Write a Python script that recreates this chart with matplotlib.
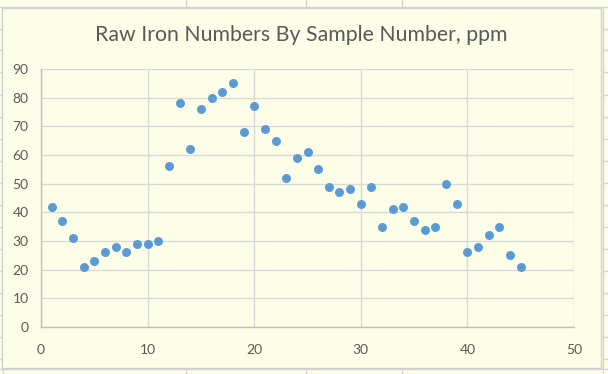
import matplotlib.pyplot as plt
from matplotlib.patches import Rectangle
from matplotlib.lines import Line2D

plt.rcParams['font.family'] = ['Lato', 'DejaVu Sans']

# Данные: номер пробы и содержание железа, ppm
sample = list(range(1, 46))
iron = [42, 37, 31, 21, 23, 26, 28, 26, 29, 29,
        30, 56, 78, 62, 76, 80, 82, 85, 68, 77,
        69, 65, 52, 59, 61, 55, 49, 47, 48, 43,
        49, 35, 41, 42, 37, 34, 35, 50, 43, 26,
        28, 32, 35, 25, 21]

bg = '#FDFEE8'
W, H = 608, 374

fig = plt.figure(figsize=(6.08, 3.74), dpi=100, facecolor=bg)

# линии ячеек таблицы вокруг диаграммы
cell = '#D4D4D4'
def fline(x0, y0, x1, y1, lw=1.0):
    fig.add_artist(Line2D([x0 / W, x1 / W], [1 - y0 / H, 1 - y1 / H],
                          color=cell, lw=lw, transform=fig.transFigure,
                          zorder=-2))

fline(0, 6.5, W, 6.5)
for x in [186, 306, 402]:
    fline(x, 0, x, 6.5)
    fline(x, 369, x, H)
fline(3, 369, 3, H)
fline(0, 369, W, 369)
fline(603, 6.5, 603, H)
for y in [28.5, 50, 72, 94.5, 116.5, 138.5, 160.5, 182.5, 204.5, 226.5,
          248.5, 270.5, 292.5, 314.5, 336.5, 358.5]:
    fline(603, y, W, y)
    fline(0, y, 1, y)

# рамка диаграммы
fig.add_artist(Rectangle((1.5 / W, 1 - 367.5 / H), 599.5 / W, 359.5 / H,
                         transform=fig.transFigure, facecolor=bg,
                         edgecolor='#D0D0D0', lw=1.0, zorder=-1))

ax = fig.add_axes([41 / W, 1 - 327 / H, 533 / W, 258 / H])
ax.set_zorder(2)
ax.set_facecolor(bg)
ax.scatter(sample, iron, s=42, color='#5B9BD5', zorder=3, linewidths=0)

ax.set_xlim(0, 50)
ax.set_ylim(0, 90)
ax.set_xticks(range(0, 51, 10))
ax.set_yticks(range(0, 91, 10))
ax.grid(True, color='#D9D9D9', lw=1.0)
ax.set_axisbelow(True)
for s in ['top', 'right']:
    ax.spines[s].set_visible(False)
for s in ['left', 'bottom']:
    ax.spines[s].set_color('#BFBFBF')
    ax.spines[s].set_linewidth(1.0)
ax.tick_params(length=0, labelsize=10, labelcolor='#595959', pad=9)
ax.tick_params(axis='x', pad=12)

fig.text(301 / W, 1 - 35 / H, 'Raw Iron Numbers By Sample Number, ppm',
         ha='center', va='center', fontsize=15.3, color='#595959', zorder=3)

fig.savefig('out.png', dpi=100, facecolor=bg)
